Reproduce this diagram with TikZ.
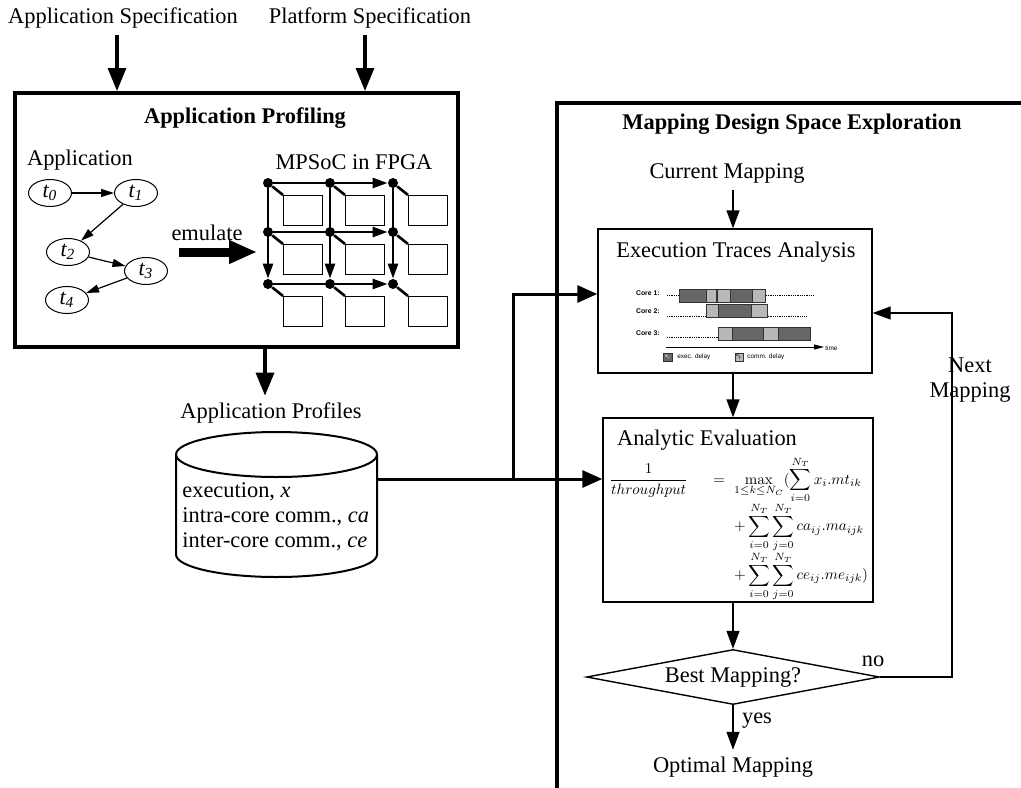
\documentclass[tikz,border=0pt]{standalone}
\usepackage[no-math]{fontspec}
\usepackage{graphicx}
\setmainfont{Liberation Serif}
\setsansfont{Liberation Sans}
\usetikzlibrary{arrows.meta,shapes.geometric,positioning}

\tikzset{
  lbl/.style = {font=\fontsize{11.2}{12.5}\selectfont},
  ttl/.style = {font=\fontsize{11.2}{12.5}\selectfont\bfseries},
  bigarrow/.style = {line width=1.6pt, -{Triangle[width=9pt,length=11.5pt]}},
  feedline/.style = {line width=1.5pt},
  feedarrow/.style = {line width=1.5pt, -{Triangle[width=8.5pt,length=10pt]}},
  emuarrow/.style = {line width=4.5pt, -{Triangle[width=11pt,length=14pt]}},
  flowarrow/.style = {line width=0.7pt, -{Triangle[width=6.5pt,length=9pt]}},
  taskarrow/.style = {line width=0.6pt, -{Triangle[width=4pt,length=6.5pt]}},
  task/.style = {draw, ellipse, line width=0.5pt, minimum width=21.5pt, minimum height=13.5pt,
    inner sep=0pt, font=\fontsize{11}{12}\selectfont\itshape},
  router/.style = {circle, fill, inner sep=0pt, minimum size=5pt},
  pe/.style = {draw, line width=0.5pt, minimum width=19.5pt, minimum height=15pt,
    inner sep=0pt, anchor=north west},
  meshline/.style = {line width=1.3pt},
  mesharrow/.style = {line width=1.3pt, -{Triangle[width=5pt,length=7.5pt]}},
  stage/.style = {draw, line width=0.7pt},
  decision/.style = {draw, diamond, line width=0.7pt, aspect=5.3, inner sep=0pt,
    minimum width=146.5pt, minimum height=27.5pt, font=\fontsize{11.2}{12.5}\selectfont},
  core/.style = {font=\sffamily\bfseries\fontsize{3.4}{4}\selectfont, anchor=east, inner sep=0pt},
  legend/.style = {font=\sffamily\fontsize{3.2}{4}\selectfont, anchor=west, inner sep=0pt},
  baseline dots/.style = {line width=0.3pt, dash pattern=on 0.3pt off 0.6pt},
  xslot/.style = {draw=black!80, line width=0.3pt, fill=black!60},
  cslot/.style = {draw=black!80, line width=0.3pt, fill=black!28},
}

\begin{document}
\begin{tikzpicture}[x=0.5pt, y=-0.5pt]
\clip (0,0) rectangle (1021,787);

% inputs
\node[lbl] (appspec) at (123,18) {Application Specification};
\node[lbl] (platspec) at (370,18) {Platform Specification};

% profiling stage
\node[draw, line width=2pt, minimum width=221.5pt, minimum height=127pt] (profbox) at (236.5,220) {};
\node[ttl] (proftitle) at (245,118) {Application Profiling};
\draw[bigarrow] ([xshift=-3pt]appspec.south) -- ([xshift=-3pt]appspec.south |- profbox.north);
\draw[bigarrow] ([xshift=-2.5pt]platspec.south) -- ([xshift=-2.5pt]platspec.south |- profbox.north);

% task graph
\node[lbl] (appname) at (80,160) {Application};
\node[task] (t0) at (50,193) {t\textsubscript{0}};
\node[task] (t1) at (136,193) {t\textsubscript{1}};
\node[task] (t2) at (68,252) {t\textsubscript{2}};
\node[task] (t3) at (146,271) {t\textsubscript{3}};
\node[task] (t4) at (67,300) {t\textsubscript{4}};
\draw[taskarrow] (t0) -- (t1);
\draw[taskarrow] (t1) -- (t2);
\draw[taskarrow] (t2) -- (t3);
\draw[taskarrow] (t3) -- (t4);

\node[lbl] (emulate) at (207,233) {emulate};
\coordinate (emufrom) at (179,252);
\coordinate (emuto) at (257,252);
\draw[emuarrow] (emufrom) -- (emuto);

% 3x3 mesh
\node[lbl] (mpsoc) at (354,162) {MPSoC in FPGA};
\foreach \c/\x in {1/268,2/330,3/393}
  \foreach \r/\y in {1/183,2/232,3/284} {
    \node[router] (r\c\r) at (\x,\y) {};
    \node[pe] (pe\c\r) at (\x+15,\y+12) {};
    \draw[meshline] (r\c\r) -- (pe\c\r.north west);
  }
\foreach \r in {1,2,3} \draw[mesharrow] (r1\r) -- (r3\r);
\foreach \c in {1,2,3} \draw[mesharrow] (r\c1) -- (r\c3);

% profiles database
\node[lbl] (profiles) at (271,413) {Application Profiles};
\draw[bigarrow] ([xshift=-3pt]profiles.north |- profbox.south) -- ([xshift=-3pt]profiles.north);
\draw[line width=1pt] (176,454.5) -- (176,554.5)
  arc[start angle=180, end angle=0, x radius=100.5, y radius=22.5] -- (377,454.5)
  arc[start angle=0, end angle=-180, x radius=100.5, y radius=22.5] -- cycle;
\draw[line width=1pt] (176,454.5) arc[start angle=180, end angle=0, x radius=100.5, y radius=22.5];
\node[lbl, align=left, anchor=west, inner sep=0pt] (dbtext) at (182,517)
  {execution, \textit{x}\\intra-core comm., \textit{ca}\\inter-core comm., \textit{ce}};
\coordinate (dbout) at (377,479);

% exploration stage
\draw[line width=2pt] (557,820) |- (1060,103);
\node[ttl] (dsetitle) at (792,124) {Mapping Design Space Exploration};
\node[lbl] (curmap) at (727,173) {Current Mapping};

\node[stage, minimum width=137pt, minimum height=72pt] (trace) at (735,301) {};
\node[lbl] (tracetitle) at (736,252) {Execution Traces Analysis};
\foreach \y/\e in {295/813,316/807,337/810} \draw[baseline dots] (667,\y) -- (\e,\y);
\foreach \a/\b/\t/\s in {679/706/289/xslot, 706/716/289/cslot, 717/730/289/cslot,
    730/752/289/xslot, 752/765/289/cslot,
    706/718/304/cslot, 718/751/304/xslot, 751/767/304/cslot,
    718/732/327/cslot, 732/763/327/xslot, 763/778/327/cslot, 778/810/327/xslot}
  \draw[\s] (\a,\t) rectangle (\b,\t+13);
\node[core] (core1) at (660,293) {Core 1:};
\node[core] (core2) at (660,311) {Core 2:};
\node[core] (core3) at (660,333) {Core 3:};
\draw[line width=0.4pt, -{Triangle[width=2.5pt,length=5pt]}] (666,347) -- (824,347);
\node[legend] (timelbl) at (825,348) {time};
\draw[xslot] (663,353) rectangle (672,361);
\node[font=\sffamily\bfseries\fontsize{2.2}{3}\selectfont, text=white, inner sep=0pt] at (667.5,357) {x\textsubscript{i}};
\node[legend] (xlbl) at (677,357) {exec. delay};
\draw[cslot] (735,353) rectangle (743,361);
\node[font=\sffamily\bfseries\fontsize{2.2}{3}\selectfont, inner sep=0pt] at (739,357) {c\textsubscript{ij}};
\node[legend] (clbl) at (747,357) {comm. delay};

\node[stage, minimum width=135pt, minimum height=92pt] (analytic) at (738,510) {};
\node[lbl] (analtitle) at (707,440) {Analytic Evaluation};
\node[anchor=north west, inner sep=0pt, font=\fontsize{10}{12}\selectfont] (formula) at (609,456)
  {\scalebox{0.75}{$\begin{array}{@{}r@{\hspace{17pt}}c@{\hspace{6pt}}l@{}}
    \displaystyle\frac{1}{throughput} & = & \displaystyle\max_{1\leq k\leq N_C}(\sum_{i=0}^{N_T} x_i.mt_{ik}\\[1.5pt]
    & & \displaystyle+\sum_{i=0}^{N_T}\sum_{j=0}^{N_T} ca_{ij}.ma_{ijk}\\[1.5pt]
    & & \displaystyle+\sum_{i=0}^{N_T}\sum_{j=0}^{N_T} ce_{ij}.me_{ijk})
  \end{array}$}};

\node[decision] (best) at (733,677) {Best Mapping?};
\node[lbl] (optimal) at (733,767) {Optimal Mapping};

% flow inside the exploration loop
\coordinate (spine) at (733,0);
\coordinate (loopx) at (952,0);
\draw[flowarrow] (curmap.south -| spine) -- (trace.north -| spine);
\draw[flowarrow] (trace.south -| spine) -- (analytic.north -| spine);
\draw[flowarrow] (analytic.south -| spine) -- (best.north);
\draw[flowarrow] (best.south) -- (optimal.north);
\draw[flowarrow] (best.east) -- (best.east -| loopx) |- ([yshift=-6pt]trace.east);
\node[lbl] (yes) at (757,721) {yes};
\node[lbl] (no) at (873,661) {no};
\node[lbl, align=center] (nextmap) at (970,380) {Next\\Mapping};

% profiles feed both stages
\coordinate (split) at (513,479);
\draw[feedline] (dbout) -- (split);
\draw[feedarrow] (split) -- (split -| analytic.west);
\draw[feedarrow] (split) |- ([yshift=3.5pt]trace.west);
\end{tikzpicture}
\end{document}
